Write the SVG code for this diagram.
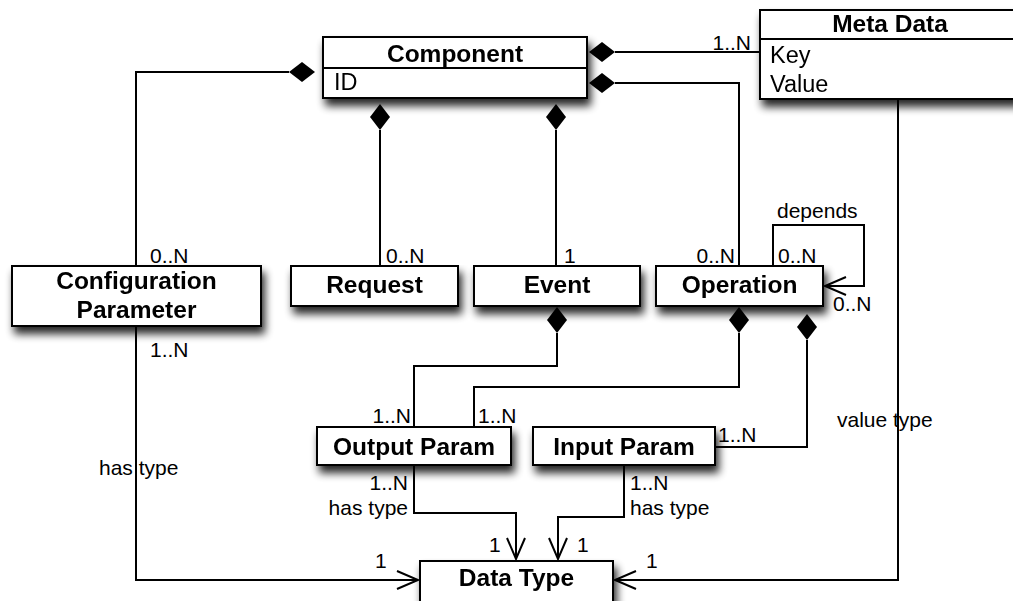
<svg xmlns="http://www.w3.org/2000/svg" width="1013" height="601" viewBox="0 0 1013 601">
<style>
.box{fill:#fff;stroke:#000;stroke-width:2}
.div{stroke:#000;stroke-width:2}
.t{font-family:"Liberation Sans",Arial,sans-serif;font-weight:bold;font-size:24.5px;text-anchor:middle;fill:#000}
.a{font-family:"Liberation Sans",Arial,sans-serif;font-size:23.5px;fill:#000}
.l{font-family:"Liberation Sans",Arial,sans-serif;font-size:21px;fill:#000}
.e{text-anchor:end}
.c{fill:none;stroke:#000;stroke-width:2}
.comp{marker-start:url(#dia)}
.arr{marker-end:url(#open)}
</style>
<defs>
<filter id="sh" x="-20%" y="-20%" width="140%" height="170%">
<feGaussianBlur in="SourceAlpha" stdDeviation="4"/>
<feOffset dx="3" dy="7" result="b"/>
<feComponentTransfer><feFuncA type="linear" slope="0.85"/></feComponentTransfer>
<feMerge><feMergeNode/><feMergeNode in="SourceGraphic"/></feMerge>
</filter>
<marker id="dia" markerUnits="userSpaceOnUse" markerWidth="30" markerHeight="24" viewBox="-28 -12 30 24" refX="0" refY="0" orient="auto">
<path d="M0,0 L-13,-10 L-26,0 L-13,10 Z" fill="#000"/>
</marker>
<marker id="open" markerUnits="userSpaceOnUse" markerWidth="26" markerHeight="24" viewBox="-23 -12 26 24" refX="0" refY="0" orient="auto">
<path d="M-21,-9 L0,0 L-21,9" fill="none" stroke="#000" stroke-width="2"/>
</marker>
</defs>
<rect width="1013" height="601" fill="#fff"/>

<g id="connectors">
<path class="c comp" d="M289,72 H136 V266"/>
<path class="c arr" d="M136,326 V580 H418"/>
<path class="c comp" d="M380,130 V266"/>
<path class="c comp" d="M556,130 V266"/>
<path class="c comp" d="M615,83 H739 V266"/>
<path class="c comp" d="M615,52 H760"/>
<path class="c arr" d="M773,266 V225 H864 V286 H825"/>
<path class="c comp" d="M557,333 V366 H414 V427"/>
<path class="c comp" d="M739,333 V387 H474 V427"/>
<path class="c comp" d="M807,340 V447 H715"/>
<path class="c arr" d="M414,465 V513 H516 V559"/>
<path class="c arr" d="M624,465 V517 H558 V559"/>
<path class="c arr" d="M898,99 V580 H615"/>
<text class="l" x="150" y="263">0..N</text>
<text class="l" x="150" y="357">1..N</text>
<text class="l" x="99" y="475">has type</text>
<text class="l" x="375" y="568">1</text>
<text class="l" x="386" y="263">0..N</text>
<text class="l" x="564" y="263">1</text>
<text class="l e" x="735" y="263">0..N</text>
<text class="l e" x="751" y="50">1..N</text>
<text class="l" x="777" y="218">depends</text>
<text class="l" x="778" y="263">0..N</text>
<text class="l" x="833" y="311">0..N</text>
<text class="l e" x="411" y="423">1..N</text>
<text class="l" x="478" y="423">1..N</text>
<text class="l" x="718" y="442">1..N</text>
<text class="l e" x="408" y="490">1..N</text>
<text class="l e" x="408" y="515">has type</text>
<text class="l" x="630" y="490">1..N</text>
<text class="l" x="630" y="515">has type</text>
<text class="l" x="489" y="552">1</text>
<text class="l" x="577" y="552">1</text>
<text class="l" x="646" y="568">1</text>
<text class="l" x="837" y="427">value type</text>
</g>

<g id="component" filter="url(#sh)">
<rect class="box" x="323" y="37" width="264" height="61"/>
<line class="div" x1="323" y1="68" x2="587" y2="68"/>
<text class="t" x="455" y="62">Component</text>
<text class="a" x="334" y="90">ID</text>
</g>
<g id="metadata" filter="url(#sh)">
<rect class="box" x="760" y="10" width="280" height="89"/>
<line class="div" x1="760" y1="39" x2="1040" y2="39"/>
<text class="t" x="890" y="32">Meta Data</text>
<text class="a" x="770" y="63">Key</text>
<text class="a" x="770" y="92">Value</text>
</g>
<g id="configparam" filter="url(#sh)">
<rect class="box" x="12" y="266" width="249" height="60"/>
<text class="t" x="136.5" y="289">Configuration</text>
<text class="t" x="136.5" y="318">Parameter</text>
</g>
<g id="request" filter="url(#sh)">
<rect class="box" x="291" y="266" width="167" height="40"/>
<text class="t" x="374.5" y="293">Request</text>
</g>
<g id="event" filter="url(#sh)">
<rect class="box" x="474" y="266" width="166" height="40"/>
<text class="t" x="557" y="293">Event</text>
</g>
<g id="operation" filter="url(#sh)">
<rect class="box" x="656" y="266" width="167" height="40"/>
<text class="t" x="739.5" y="293">Operation</text>
</g>
<g id="outputparam" filter="url(#sh)">
<rect class="box" x="317" y="427" width="194" height="38"/>
<text class="t" x="414" y="455">Output Param</text>
</g>
<g id="inputparam" filter="url(#sh)">
<rect class="box" x="533" y="427" width="182" height="38"/>
<text class="t" x="624" y="455">Input Param</text>
</g>
<g id="datatype" filter="url(#sh)">
<rect class="box" x="420" y="561" width="193" height="50"/>
<text class="t" x="516.5" y="586">Data Type</text>
</g>
</svg>
